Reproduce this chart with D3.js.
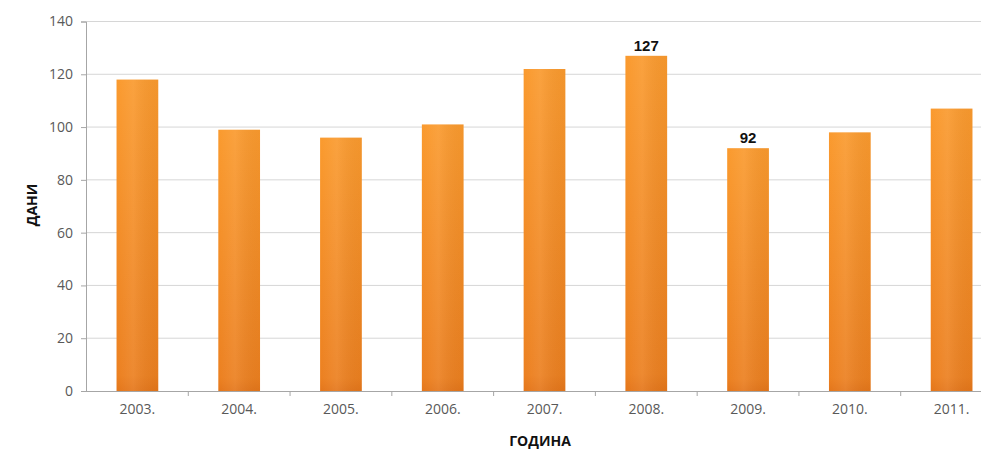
<!DOCTYPE html>
<html><head><meta charset="utf-8">
<script src="https://cdn.jsdelivr.net/npm/d3@7"></script>
<style>body{margin:0;background:#fff}</style>
</head><body>
<svg id="c" width="997" height="457"></svg>
<script>
const categories = ["2003.","2004.","2005.","2006.","2007.","2008.","2009.","2010.","2011."];
const values = [118, 99, 96, 101, 122, 127, 92, 98, 107];
const labelled = ["2008.","2009."];
const yTicks = [0,20,40,60,80,100,120,140];
const yTitle = "ДАНИ";
const xTitle = "ГОДИНА";

const svg = d3.select("#c");
const x = d3.scaleBand().domain(categories).range([86, 1003]).paddingInner(0.59).paddingOuter(0.3);
const y = d3.scaleLinear().domain([0,140]).range([391, 21.5]);
const gridRight = 981;

const defs = svg.append("defs");
const g = defs.append("linearGradient").attr("id","bg").attr("x1",0).attr("y1",0).attr("x2",0).attr("y2",1);
g.append("stop").attr("offset","0%").attr("stop-color","#FA9A2E");
g.append("stop").attr("offset","95%").attr("stop-color","#EC8020");
g.append("stop").attr("offset","100%").attr("stop-color","#E4761A");
const gh = defs.append("linearGradient").attr("id","bh").attr("x1",0).attr("y1",0).attr("x2",1).attr("y2",0);
gh.append("stop").attr("offset","0%").attr("stop-color","#fff").attr("stop-opacity",0);
gh.append("stop").attr("offset","40%").attr("stop-color","#fff").attr("stop-opacity",0.08);
gh.append("stop").attr("offset","100%").attr("stop-color","#000").attr("stop-opacity",0.03);

// gridlines
svg.append("g").selectAll("line").data(yTicks.filter(d=>d>0)).join("line")
  .attr("x1",86).attr("x2",gridRight).attr("y1",d=>y(d)).attr("y2",d=>y(d))
  .attr("stroke","#D6D6D6").attr("stroke-width",1);

// bars
svg.append("g").selectAll("rect").data(categories).join("rect")
  .attr("x",d=>x(d)).attr("width",x.bandwidth())
  .attr("y",(d,i)=>y(values[i])).attr("height",(d,i)=>y(0)-y(values[i]))
  .attr("fill","url(#bg)");
svg.append("g").selectAll("rect").data(categories).join("rect")
  .attr("x",d=>x(d)).attr("width",x.bandwidth())
  .attr("y",(d,i)=>y(values[i])).attr("height",(d,i)=>y(0)-y(values[i]))
  .attr("fill","url(#bh)");

// y axis
const ya = svg.append("g").attr("transform","translate(86,0)")
  .call(d3.axisLeft(y).tickValues(yTicks).tickSize(5).tickPadding(8));
ya.select(".domain").attr("stroke","#A6A6A6");
ya.selectAll(".tick line").attr("stroke","#A6A6A6");
ya.selectAll(".tick text").attr("fill","#595959").style("font-family","Open Sans").style("font-size","14px");

// x axis
const xa = svg.append("g").attr("transform",`translate(0,${y(0)})`)
  .call(d3.axisBottom(x).tickSize(0).tickPadding(13));
xa.select(".domain").attr("d",`M86,0.5H${gridRight}`).attr("stroke","#A6A6A6");
xa.selectAll(".tick text").attr("fill","#595959").style("font-family","Open Sans").style("font-size","14px");
// category boundary ticks
const bounds = categories.slice(1).map(c=>x(c)-x.step()*x.paddingInner()/2);
xa.append("g").selectAll("line").data(bounds).join("line")
  .attr("x1",d=>d).attr("x2",d=>d).attr("y1",0).attr("y2",5).attr("stroke","#A6A6A6");

// value labels
svg.append("g").selectAll("text").data(categories.filter(c=>labelled.includes(c))).join("text")
  .attr("x",d=>x(d)+x.bandwidth()/2).attr("y",d=>y(values[categories.indexOf(d)])-5)
  .attr("text-anchor","middle").attr("fill","#111")
  .style("font-family","Liberation Sans").style("font-weight","bold").style("font-size","15px")
  .text(d=>values[categories.indexOf(d)]);

// titles
svg.append("text").attr("transform","translate(37,205) rotate(-90)").attr("text-anchor","middle")
  .style("font-family","Open Sans").style("font-weight","bold").style("font-size","14px").attr("fill","#111")
  .text(yTitle);
svg.append("text").attr("x",540).attr("y",446).attr("text-anchor","middle")
  .style("font-family","Open Sans").style("font-weight","bold").style("font-size","14px").attr("fill","#111")
  .text(xTitle);
</script>
</body></html>
